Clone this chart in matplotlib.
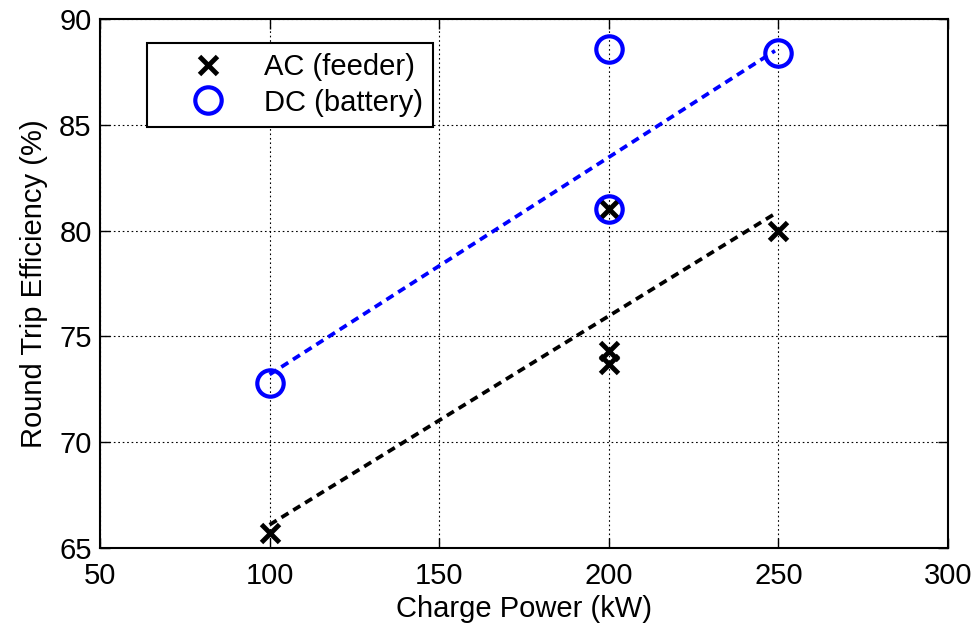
import matplotlib
matplotlib.use("Agg")
import matplotlib.pyplot as plt

plt.rcParams['font.family'] = ['Liberation Sans', 'DejaVu Sans']

# measured round trip efficiency per charge power
ac_power = [100, 200, 200, 200, 250]
ac_eff = [65.7, 81.0, 74.3, 73.7, 80.0]
dc_power = [100, 200, 200, 250]
dc_eff = [72.8, 88.6, 81.0, 88.4]

# fitted trend lines
trend_power = [100, 249]
ac_trend = [66.1, 80.8]
dc_trend = [73.2, 88.5]

x_ticks = [50, 100, 150, 200, 250, 300]
y_ticks = [65, 70, 75, 80, 85, 90]

FS = 21

fig = plt.figure(figsize=(9.73, 6.26), dpi=100)
ax = fig.add_axes([0.1028, 0.1246, 0.8715, 0.845])

trend_style = (0, (2.2, 1.5))
ax.plot(trend_power, ac_trend, color='black', lw=2.7, linestyle=trend_style,
        dash_capstyle='butt', zorder=3)
ax.plot(trend_power, dc_trend, color='#0000ff', lw=2.7, linestyle=trend_style,
        dash_capstyle='butt', zorder=3)

ax.plot(ac_power, ac_eff, linestyle='none', marker='x', color='black',
        ms=13, mew=3.5, label='AC (feeder)', zorder=4)
ax.plot(dc_power, dc_eff, linestyle='none', marker='o', mfc='none',
        mec='#0000ff', ms=19, mew=3.0, label='DC (battery)', zorder=5)

ax.set_xlim(50, 300)
ax.set_ylim(65, 90)
ax.set_xticks(x_ticks)
ax.set_yticks(y_ticks)
ax.grid(True, color='black', linestyle=(0, (1.5, 2.5)), linewidth=0.8)
ax.set_axisbelow(True)

ax.tick_params(direction='in', length=7, width=1, top=True, right=True,
               labelsize=FS)
ax.tick_params(axis='x', pad=10)
ax.tick_params(axis='y', pad=6)
for spine in ax.spines.values():
    spine.set_linewidth(1.5)

ax.set_xlabel('Charge Power (kW)', fontsize=FS, labelpad=4)
ax.set_ylabel('Round Trip Efficiency (%)', fontsize=FS, labelpad=8)

leg = ax.legend(loc='upper left', bbox_to_anchor=(0.0555, 0.9546),
                borderaxespad=0, fontsize=FS, fancybox=False,
                framealpha=1, edgecolor='black', handlelength=3.5,
                handletextpad=0.15, borderpad=0.35, labelspacing=0.25)
leg.get_frame().set_linewidth(1.5)

fig.savefig('out.png', dpi=100)
